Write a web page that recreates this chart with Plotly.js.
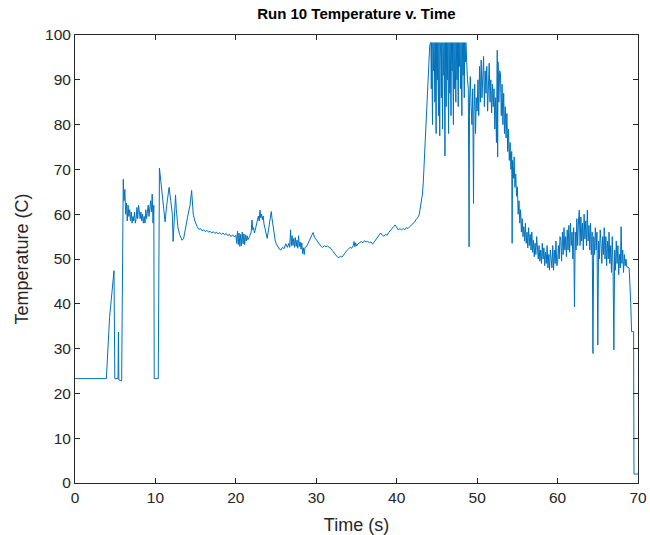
<!DOCTYPE html>
<html>
<head>
<meta charset="utf-8">
<script src="https://cdn.plot.ly/plotly-3.0.1.min.js"></script>
<style>html,body{margin:0;padding:0;background:#fff;}#chart{width:650px;height:535px;}</style>
</head>
<body>
<div id="chart"></div>
<script>
// Segment 1: warm-up (0 - 15 s)
var timeWarm = [0,3.9,4.3,4.6,4.85,4.95,5.35,5.4,5.45,5.8,6.0,6.1,6.2,6.3,6.4,6.5,6.6,6.7,6.8,6.9,7.0,7.1,7.2,7.3,7.4,7.5,7.6,7.7,7.8,7.9,8.0,8.1,8.2,8.3,8.4,8.5,8.6,8.7,8.8,8.9,9.0,9.1,9.2,9.3,9.4,9.5,9.6,9.7,9.8,9.85,10.35,10.5,10.7,10.9,11.1,11.2,11.4,11.7,11.9,12.1,12.2,12.3,12.5,12.6,12.8,13.0,13.3,13.5,13.8,14.0,14.3,14.5,14.7,14.9];
var tempWarm = [23.3,23.3,37,42,47.4,23.3,23.3,33.7,23.0,22.8,67.8,63,65.5,60,62.5,58.5,62,59.5,61,58.5,60.5,58,59.5,58.5,60.5,58,59,61.5,59,62,60,59,60.5,58.5,60,58,59.5,58,61,59,60.5,62,59.5,61.5,63,60.5,64.5,58,62,23.3,23.3,70.3,67,63,59,58.3,62,66,63,60,53.9,58,64.3,61,57,55.5,54.2,54.5,57,59.4,62,65.3,60,58.5];

// Segment 2: steady (15 - 44 s)
var timeSteady = [15.2,15.4,15.6,15.8,16.0,16.2,16.4,16.6,16.8,17.0,17.2,17.4,17.6,17.8,18.0,18.2,18.4,18.6,18.8,19.0,19.2,19.4,19.6,19.8,20.0,20.1,20.2,20.3,20.4,20.5,20.6,20.7,20.8,20.9,21.0,21.1,21.2,21.3,21.4,21.5,21.7,21.9,22.0,22.1,22.2,22.3,22.4,22.6,22.8,22.9,23.0,23.1,23.2,23.3,23.4,23.5,23.6,23.7,23.8,23.9,24.0,24.1,24.2,24.3,24.4,24.5,24.6,24.7,24.8,24.9,25.0,25.2,25.4,25.6,25.8,26.0,26.2,26.4,26.6,26.7,26.8,26.9,27.0,27.1,27.2,27.3,27.4,27.5,27.6,27.7,27.8,27.9,28.0,28.1,28.2,28.3,28.4,28.5,28.6,28.8,29.0,29.2,29.4,29.6,29.8,30.0,30.2,30.4,30.6,30.8,31.0,31.2,31.4,31.6,31.8,32.0,32.2,32.4,32.6,32.8,33.0,33.2,33.4,33.6,33.8,34.0,34.2,34.4,34.6,34.7,34.8,34.9,35.0,35.2,35.4,35.6,35.8,36.0,36.2,36.4,36.6,36.8,37.0,37.2,37.4,37.6,37.8,38.0,38.2,38.4,38.6,38.8,39.0,39.2,39.4,39.6,39.8,40.0,40.2,40.4,40.6,40.8,41.0,41.2,41.4,41.6,41.8,42.0,42.2,42.4,42.6,42.8,43.0,43.1,43.2,43.3,43.4,43.5,43.6,43.7,43.8,43.9,44.0,44.1];
var tempSteady = [57.2,56.6,56.8,56.3,56.5,56.1,56.4,56.0,56.2,55.8,56.1,55.7,56.0,55.6,55.9,55.5,55.8,55.4,55.7,55.2,55.5,55.0,55.4,54.9,55.3,53.5,56.2,53.2,55.8,52.8,55.5,53.0,56.0,53.4,55.6,53.2,55.4,54.0,55.2,54.3,55.0,56.0,58.7,56.5,57.0,55.8,56.4,57.8,59.6,58.5,60.9,59.2,60.0,58.8,59.6,57.8,57.0,55.8,55.2,54.6,55.8,57.2,58.5,59.5,60.6,59.0,57.8,56.0,54.6,54.0,53.5,52.8,52.2,52.0,52.6,52.3,53.4,52.6,53.5,52.6,56.5,53.0,55.2,53.0,54.6,52.6,54.8,52.8,54.2,52.4,55.2,52.8,53.8,52.2,53.6,51.2,52.5,51.0,52.6,52.8,53.6,54.3,55.0,55.9,54.8,54.3,53.8,53.1,52.8,52.6,53.0,52.7,52.9,52.6,52.4,51.9,51.4,50.9,50.5,50.3,50.6,50.4,51.0,51.4,51.9,52.2,52.6,52.4,53.0,53.9,52.7,53.6,52.9,53.4,53.7,53.9,53.6,54.1,53.8,54.0,53.6,53.8,53.3,53.8,54.3,55.0,55.4,55.8,55.3,55.1,55.5,55.3,55.9,56.4,56.7,57.2,57.6,57.0,56.5,56.8,56.5,56.8,56.5,57.0,56.8,57.2,57.5,57.9,58.2,58.8,59.2,59.9,62.0,63.0,64.5,67,70.5,74,78,83,87.7,91,94,97.5];

// Segment 3: hot, sensor saturated (44 - 55 s)
var timeHot = [44.2,44.25,44.3,44.35,44.45,44.5,44.6,44.65,44.75,44.8,44.9,44.95,45.05,45.1,45.2,45.25,45.35,45.4,45.5,45.55,45.6,45.7,45.75,45.85,45.9,46.0,46.05,46.15,46.2,46.3,46.35,46.45,46.5,46.6,46.65,46.75,46.8,46.9,46.95,47.05,47.1,47.2,47.25,47.35,47.4,47.5,47.55,47.65,47.7,47.8,47.85,47.95,48.0,48.1,48.15,48.25,48.3,48.4,48.45,48.55,48.6,48.7,48.8,48.9,49.0,49.05,49.15,49.25,49.35,49.45,49.55,49.6,49.7,49.8,49.9,50.0,50.1,50.2,50.3,50.4,50.5,50.6,50.7,50.8,50.9,51.0,51.1,51.2,51.3,51.4,51.5,51.6,51.7,51.8,51.9,52.0,52.1,52.2,52.3,52.4,52.5,52.55,52.6,52.7,52.8,52.9,53.0,53.1,53.2,53.3,53.4,53.5,53.6,53.7,53.8,53.9,54.0,54.1,54.2,54.3,54.35,54.4,54.5,54.6,54.7,54.8,54.9];
var tempHot = [98.3,98.3,88,98.3,80,98.3,92,98.3,85,98.3,78,98.3,90,98.3,82,98.3,77.5,98.3,95,86,98.3,79,98.3,91,98.3,73,98.3,84,98.3,90,98.3,78,98.3,87,98.3,82,98.3,92,98.3,80,98.3,88,98.3,85,98.3,90,98.3,84,98.3,93,98.3,88,98.3,82,98.3,91,98.3,86,98.3,94,98.3,91,90,88,52.7,85,90.7,84,80,88,62.4,82,89,78,86,83,90,82,93,85,94.4,86,92,95.2,84,92,87,93,83,91,93.7,85,90,82.6,89,84,88,79,86,76,96.6,72.8,94,85,92,91.4,82,89,80,87,78,84,77,82.5,74,79,72,76,70,74,53.5,72,68,72.8,66,69,64];

// Segment 4: cool-down and shutdown (55 - 70 s)
var timeCool = [55.0,55.1,55.2,55.3,55.4,55.5,55.6,55.7,55.8,55.9,56.0,56.1,56.2,56.3,56.4,56.5,56.6,56.7,56.8,56.9,57.0,57.1,57.2,57.3,57.4,57.5,57.6,57.7,57.8,57.9,58.0,58.1,58.2,58.3,58.4,58.5,58.6,58.7,58.8,58.9,59.0,59.1,59.2,59.3,59.4,59.5,59.6,59.7,59.8,59.9,60.0,60.1,60.2,60.3,60.4,60.5,60.6,60.7,60.8,60.9,61.0,61.1,61.2,61.3,61.4,61.5,61.6,61.7,61.8,61.9,62.0,62.1,62.2,62.3,62.4,62.5,62.6,62.7,62.8,62.9,63.0,63.1,63.2,63.3,63.4,63.5,63.6,63.7,63.8,63.9,64.0,64.1,64.2,64.3,64.4,64.5,64.6,64.7,64.8,64.9,65.0,65.1,65.2,65.3,65.4,65.5,65.6,65.7,65.8,65.9,66.0,66.1,66.2,66.3,66.4,66.5,66.6,66.7,66.8,66.9,67.0,67.1,67.2,67.3,67.4,67.5,67.6,67.7,67.8,67.9,68.0,68.1,68.2,68.3,68.4,68.5,68.6,68.9,69.1,69.2,69.45,69.5,70];
var tempCool = [66.1,60,63,58,61,56,59,55,57.2,54,58,53.5,56,52.5,57,53,55.5,52,56,51.5,54.2,50.5,53.5,51,55,52.7,50,53,49.5,52,49,53.5,50,52.5,48.5,51.5,49,53,48,51,47.5,52,50.5,48,53,47.5,52,49,54,48.5,49,53,50,55,54.2,49.5,56,51,57,52,55,50.5,56.5,52,57.5,51.5,58,53,56,50,57,39.3,56,52,59,53,58.5,60.9,53,59.4,54,58,52,60,54.5,58.5,53,60.9,54,57.5,52,58,51,56,28.9,55,51,57,52,56,30.8,54,50,56.5,53.5,49,55,51,57,50,55,48.5,54,50,56,49,53,47,55,48,29.7,52,47.5,54,49,53,46.5,51,48,57.2,49,52,47,51,48.5,50,48.3,48,40,33.8,33.8,2,2];

var time = timeWarm.concat(timeSteady, timeHot, timeCool);
var temperature = tempWarm.concat(tempSteady, tempHot, tempCool);

var xTicks = [0,10,20,30,40,50,60,70];
var yTicks = [0,10,20,30,40,50,60,70,80,90,100];

var axisColor = '#262626';
var fontFam = 'Liberation Sans, Arial, Helvetica, sans-serif';

var trace = {
  x: time,
  y: temperature,
  type: 'scatter',
  mode: 'lines',
  line: {color: '#0072BD', width: 1},
  hoverinfo: 'skip'
};

var layout = {
  width: 650,
  height: 535,
  margin: {l: 75, r: 12, t: 35, b: 52, pad: 0},
  paper_bgcolor: '#ffffff',
  plot_bgcolor: '#ffffff',
  showlegend: false,
  font: {family: fontFam, size: 15, color: axisColor},
  title: {
    text: '<b>Run 10 Temperature v. Time</b>',
    font: {family: fontFam, size: 15, color: '#000000'},
    x: 0.5483, xanchor: 'center',
    y: 0.975, yanchor: 'middle'
  },
  xaxis: {
    range: [0, 70],
    tickvals: xTicks,
    ticktext: xTicks.map(String),
    ticks: 'inside',
    ticklen: 5,
    tickcolor: axisColor,
    showline: true,
    linecolor: axisColor,
    linewidth: 1,
    mirror: 'ticks',
    showgrid: false,
    zeroline: false,
    tickfont: {family: fontFam, size: 15.5, color: axisColor},
    title: {text: 'Time (s)', font: {family: fontFam, size: 18, color: axisColor}, standoff: 14},
    automargin: false
  },
  yaxis: {
    range: [0, 100],
    tickvals: yTicks,
    ticktext: yTicks.map(String),
    ticks: 'inside',
    ticklen: 5,
    tickcolor: axisColor,
    showline: true,
    linecolor: axisColor,
    linewidth: 1,
    mirror: 'ticks',
    showgrid: false,
    zeroline: false,
    tickfont: {family: fontFam, size: 15.5, color: axisColor},
    title: {text: 'Temperature (C)', font: {family: fontFam, size: 18, color: axisColor}, standoff: 11},
    automargin: false
  }
};

Plotly.newPlot('chart', [trace], layout, {staticPlot: true, displayModeBar: false});
</script>
</body>
</html>
